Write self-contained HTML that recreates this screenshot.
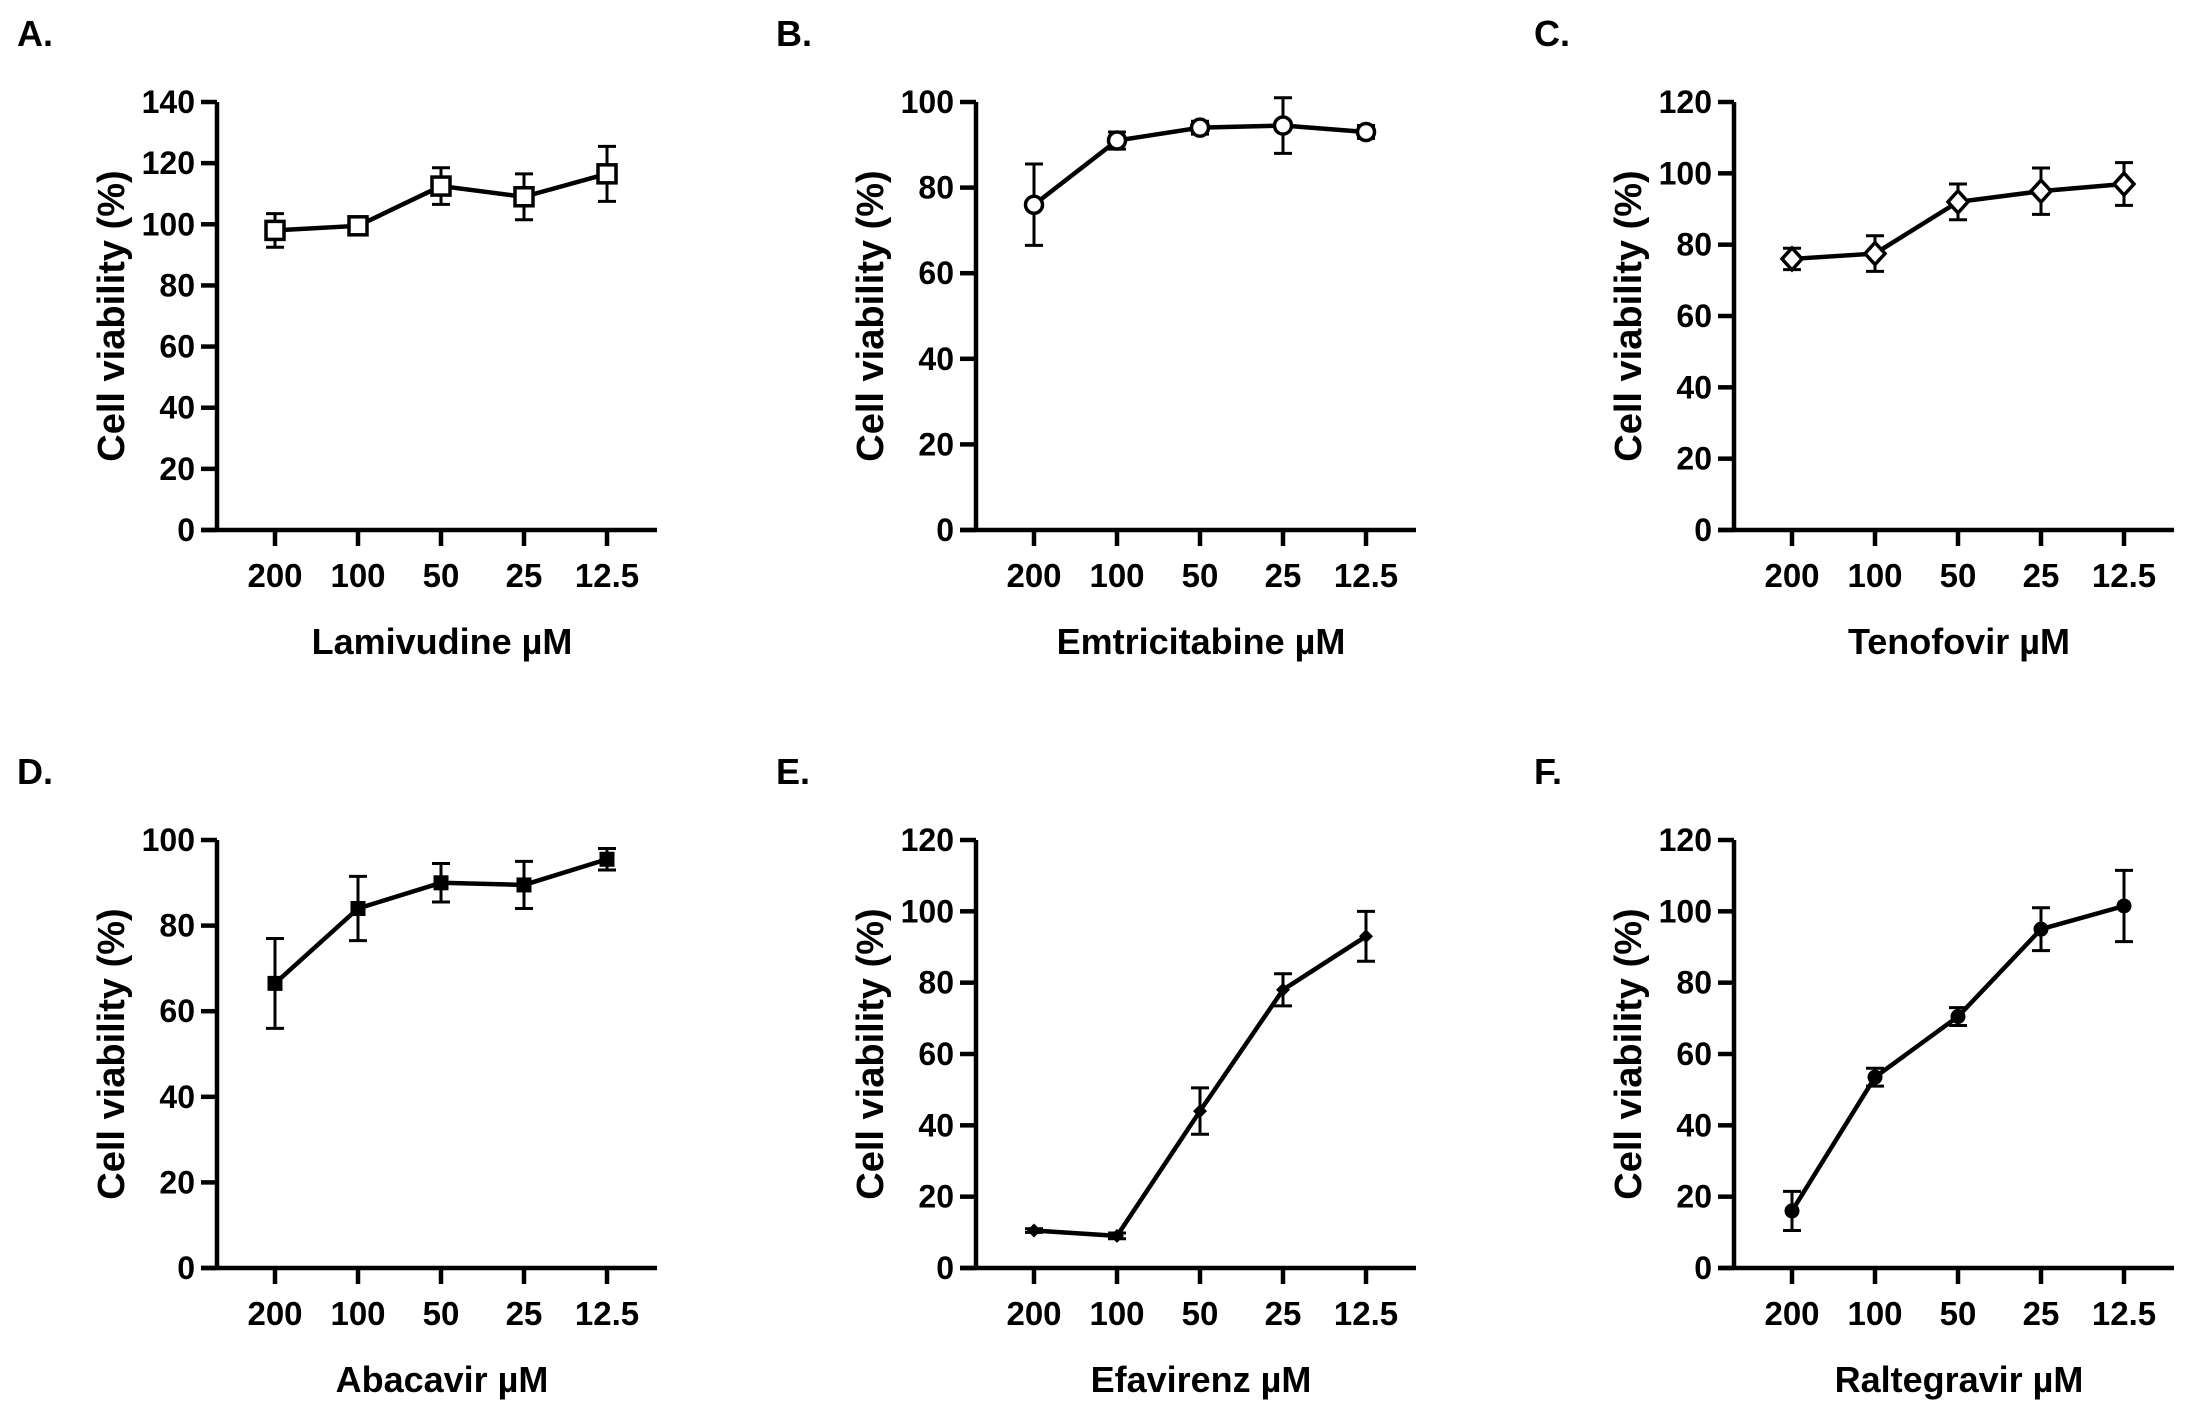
<!DOCTYPE html>
<html><head><meta charset="utf-8"><style>
body{margin:0;background:#fff;}
svg{display:block;font-family:"Liberation Sans",Arial,sans-serif;font-weight:bold;}
</style></head><body>
<svg id="fig" width="2197" height="1414" viewBox="0 0 2197 1414" xmlns="http://www.w3.org/2000/svg"></svg>
<script>
const categories = ["200","100","50","25","12.5"];
const drugs = ["Lamivudine","Emtricitabine","Tenofovir","Abacavir","Efavirenz","Raltegravir"];
const letters = ["A.","B.","C.","D.","E.","F."];
const yMaxes = [140,100,120,100,120,120];
const meansA = [98,99.5,112.5,109,116.5];
const errsA = [5.5,1,6,7.5,9];
const meansB = [76,91,94,94.5,93];
const errsB = [9.5,2,1.5,6.5,1.5];
const meansC = [76,77.5,92,95,97];
const errsC = [3,5,5,6.5,6];
const meansD = [66.5,84,90,89.5,95.5];
const errsD = [10.5,7.5,4.5,5.5,2.5];
const meansE = [10.5,9,44,78,93];
const errsE = [0.5,0.8,6.5,4.5,7];
const meansF = [16,53.5,70.5,95,101.5];
const errsF = [5.5,2.5,2.5,6,10];
const allMeans = [meansA,meansB,meansC,meansD,meansE,meansF];
const allErrs = [errsA,errsB,errsC,errsD,errsE,errsF];
const markers = ["open-square","open-circle","open-diamond","filled-square","filled-diamond","filled-circle"];

const NS = "http://www.w3.org/2000/svg";
const svg = document.getElementById("fig");
function mk(tag, attrs, parent){const e=document.createElementNS(NS,tag);for(const k in attrs)e.setAttribute(k,attrs[k]);(parent||svg).appendChild(e);return e;}

const colX = [217,976,1734];
const rowBottom = [530,1268];
const rowTop = [102,840];
const lw = 4.5;

for(let p=0;p<6;p++){
  const ax = colX[p%3], y0 = rowBottom[Math.floor(p/3)], y1 = rowTop[Math.floor(p/3)];
  const g = mk("g",{});
  
  
  const ymax = yMaxes[p];
  const ys = v => y0 - (v/ymax)*(y0-y1);
  const xs = i => ax + 58 + i*83;
  const axEnd = ax + 440;
  const L = mk("text",{x:ax-200,y:y1-56,"font-size":36},g); L.textContent=letters[p];
   
  const ya = mk("line",{x1:ax,y1:y1,x2:ax,y2:y0,stroke:"#000","stroke-width":lw},g);
   
  const xa = mk("line",{x1:ax-16,y1:y0,x2:axEnd,y2:y0,stroke:"#000","stroke-width":lw},g);
   
  for(let v=0; v<=ymax; v+=20){
    const y=ys(v);
    mk("line",{x1:ax-16,y1:y,x2:ax,y2:y,stroke:"#000","stroke-width":lw},g);
    const t=mk("text",{x:ax-22,y:y+11,"font-size":32,"text-anchor":"end"},g); t.textContent=v;
     
  }
  categories.forEach((c,i)=>{
    mk("line",{x1:xs(i),y1:y0,x2:xs(i),y2:y0+16,stroke:"#000","stroke-width":lw},g);
    const t=mk("text",{x:xs(i),y:y0+57,"font-size":33,"text-anchor":"middle"},g); t.textContent=c;
     
  });
  const xt = mk("text",{x:ax+225,y:y0+124,"font-size":36,"text-anchor":"middle"},g);
  xt.textContent = drugs[p]+" \u00b5M";
   
  const yc=(y0+y1)/2;
  const yt = mk("text",{x:ax-93,y:yc,"font-size":38,"text-anchor":"middle",transform:`rotate(-90 ${ax-93} ${yc})`},g);
  yt.textContent="Cell viability (%)";
   
  const m = allMeans[p], e = allErrs[p];
  m.forEach((v,i)=>{
    const x=xs(i), a=ys(v+e[i]), b=ys(v-e[i]);
    const eb=mk("path",{d:`M${x},${a}V${b}M${x-9},${a}H${x+9}M${x-9},${b}H${x+9}`,stroke:"#000","stroke-width":3,fill:"none"},g);
     
  });
  const line = mk("polyline",{points:m.map((v,i)=>xs(i)+","+ys(v)).join(" "),fill:"none",stroke:"#000","stroke-width":lw},g);
   
  m.forEach((v,i)=>{
    const x=xs(i), y=ys(v); let el;
    const mt=markers[p];
    if(mt==="open-square") el=mk("rect",{x:x-9,y:y-9,width:18,height:18,fill:"#fff",stroke:"#000","stroke-width":3.5},g);
    else if(mt==="open-circle") el=mk("circle",{cx:x,cy:y,r:8.5,fill:"#fff",stroke:"#000","stroke-width":3.5},g);
    else if(mt==="open-diamond") el=mk("polygon",{points:`${x},${y-11} ${x+10},${y} ${x},${y+11} ${x-10},${y}`,fill:"#fff",stroke:"#000","stroke-width":3.5},g);
    else if(mt==="filled-square") el=mk("rect",{x:x-7.5,y:y-7.5,width:15,height:15,fill:"#000"},g);
    else if(mt==="filled-diamond") el=mk("polygon",{points:`${x},${y-7} ${x+7},${y} ${x},${y+7} ${x-7},${y}`,fill:"#000"},g);
    else el=mk("circle",{cx:x,cy:y,r:7.5,fill:"#000"},g);
     
  });
}
</script>
</body></html>
